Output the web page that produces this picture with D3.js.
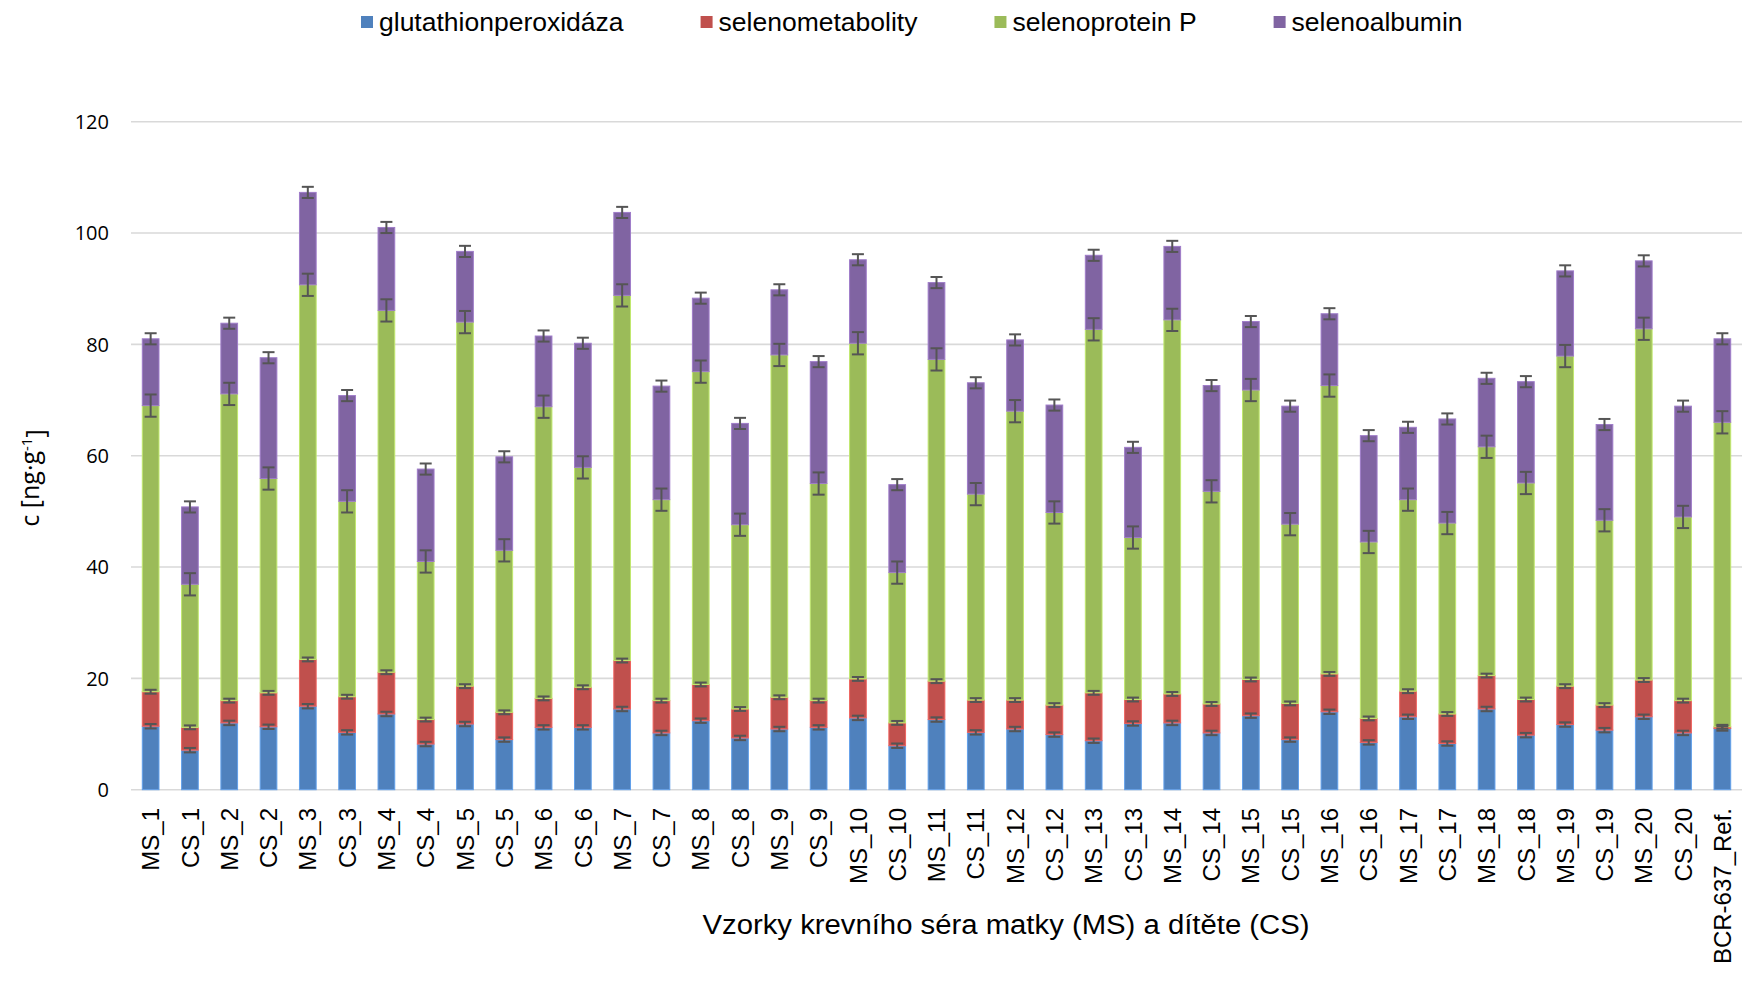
<!DOCTYPE html>
<html><head><meta charset="utf-8">
<script src="https://cdn.jsdelivr.net/npm/d3@7"></script>
<style>body{margin:0;background:#fff}svg{display:block}</style>
</head><body>
<script>
const categories = ["MS_1","CS_1","MS_2","CS_2","MS_3","CS_3","MS_4","CS_4","MS_5","CS_5","MS_6","CS_6","MS_7","CS_7","MS_8","CS_8","MS_9","CS_9","MS_10","CS_10","MS_11","CS_11","MS_12","CS_12","MS_13","CS_13","MS_14","CS_14","MS_15","CS_15","MS_16","CS_16","MS_17","CS_17","MS_18","CS_18","MS_19","CS_19","MS_20","CS_20","BCR-637_Ref."];
const seriesNames = ["glutathionperoxidáza","selenometabolity","selenoprotein P","selenoalbumin"];
const seriesColors = ["#4F81BD","#C0504D","#9BBB59","#8064A2"];
const glutathionperoxidaza = [11.4,7.1,12.0,11.3,15.0,10.3,13.6,8.2,11.8,9.0,11.2,11.2,14.5,10.2,12.4,9.3,10.9,11.2,12.9,7.9,12.6,10.3,10.9,9.9,8.8,11.9,12.0,10.2,13.3,9.0,14.0,8.5,13.1,8.3,14.5,9.8,11.7,10.7,13.1,10.2,11.0];
const selenometabolity = [6.2,4.1,4.0,6.1,8.4,6.4,7.5,4.4,6.8,4.9,5.2,7.2,8.7,5.8,6.5,5.2,5.7,4.8,7.0,4.1,6.9,5.8,5.2,5.3,8.6,4.3,5.2,5.2,6.5,6.5,6.8,4.3,4.6,5.3,6.0,6.4,6.9,4.5,6.6,5.8,0.3];
const selenoproteinP = [51.4,25.7,55.1,38.5,67.3,35.1,65.0,28.4,65.4,29.1,52.4,39.5,65.6,36.1,56.2,33.1,61.5,39.0,60.3,27.0,57.8,37.0,51.9,34.6,65.3,29.1,67.2,38.2,52.0,32.2,51.8,31.7,34.4,34.3,41.1,38.9,59.3,33.2,63.1,33.0,54.7];
const selenoalbumin = [12.0,13.9,12.7,21.7,16.6,19.0,14.9,16.6,12.7,16.8,12.7,22.3,14.9,20.4,13.2,18.2,11.7,21.9,15.0,15.8,13.8,20.0,12.8,19.3,13.3,16.2,13.2,19.0,12.3,21.2,12.9,19.1,13.0,18.7,12.3,18.2,15.3,17.2,12.2,19.9,15.0];
const errGlutathionperoxidaza = [0.4,0.4,0.4,0.4,0.4,0.4,0.4,0.4,0.4,0.4,0.4,0.4,0.4,0.4,0.4,0.4,0.4,0.4,0.4,0.4,0.4,0.4,0.4,0.4,0.4,0.4,0.4,0.4,0.4,0.4,0.4,0.4,0.4,0.4,0.4,0.4,0.4,0.4,0.4,0.4,0.4];
const errSelenometabolity = [0.35,0.35,0.35,0.35,0.35,0.35,0.35,0.35,0.35,0.35,0.35,0.35,0.35,0.35,0.35,0.35,0.35,0.35,0.35,0.35,0.35,0.35,0.35,0.35,0.35,0.35,0.35,0.35,0.35,0.35,0.35,0.35,0.35,0.35,0.35,0.35,0.35,0.35,0.35,0.35,0.35];
const errSelenoproteinP = [2.0,2.0,2.0,2.0,2.0,2.0,2.0,2.0,2.0,2.0,2.0,2.0,2.0,2.0,2.0,2.0,2.0,2.0,2.0,2.0,2.0,2.0,2.0,2.0,2.0,2.0,2.0,2.0,2.0,2.0,2.0,2.0,2.0,2.0,2.0,2.0,2.0,2.0,2.0,2.0,2.0];
const errSelenoalbumin = [1.0,1.0,1.0,1.0,1.0,1.0,1.0,1.0,1.0,1.0,1.0,1.0,1.0,1.0,1.0,1.0,1.0,1.0,1.0,1.0,1.0,1.0,1.0,1.0,1.0,1.0,1.0,1.0,1.0,1.0,1.0,1.0,1.0,1.0,1.0,1.0,1.0,1.0,1.0,1.0,1.0];
const yTicks = [0,20,40,60,80,100,120];
const yLabel = "c [ng·g";
const yLabelSup = "-1";
const xTitle = "Vzorky krevního séra matky (MS) a dítěte (CS)";

const W = 1742, H = 981;
const plot = {left: 131, right: 1742, top: 121.7, bottom: 789.7};
const svg = d3.select("body").append("svg").attr("width", W).attr("height", H)
  .style("font-family", "'Liberation Sans', Arial, sans-serif");
svg.append("rect").attr("width", W).attr("height", H).attr("fill", "#fff");

const x = d3.scaleBand().domain(categories).range([plot.left, plot.right]).paddingInner(0.575).paddingOuter(0.2875);
const y = d3.scaleLinear().domain([0, 120]).range([plot.bottom, plot.top]);

// gridlines
svg.append("g").selectAll("line").data(yTicks).join("line")
  .attr("x1", plot.left).attr("x2", plot.right)
  .attr("y1", d => y(d)).attr("y2", d => y(d))
  .attr("stroke", "#d9d9d9").attr("stroke-width", 1.6);

// y tick labels
svg.append("g").selectAll("text").data(yTicks).join("text")
  .attr("x", 109).attr("y", d => y(d)).attr("dy", "0.36em")
  .attr("text-anchor", "end").attr("font-family", "'Open Sans', sans-serif")
  .attr("font-size", 20).attr("fill", "#000").text(d => d);

// data table
const seriesArrays = [glutathionperoxidaza, selenometabolity, selenoproteinP, selenoalbumin];
const errArrays = [errGlutathionperoxidaza, errSelenometabolity, errSelenoproteinP, errSelenoalbumin];
const table = categories.map((c, i) => {
  const o = {cat: c, i};
  seriesNames.forEach((s, k) => o[s] = seriesArrays[k][i]);
  return o;
});
const stacked = d3.stack().keys(seriesNames)(table);

const bars = svg.append("g");
stacked.forEach((layer, k) => {
  bars.append("g").selectAll("rect").data(layer).join("rect")
    .attr("x", d => x(d.data.cat))
    .attr("width", x.bandwidth())
    .attr("y", d => y(d[1]))
    .attr("height", d => Math.max(0, y(d[0]) - y(d[1])))
    .attr("fill", seriesColors[k])
    .attr("stroke", d3.color(seriesColors[k]).brighter(0.6))
    .attr("stroke-width", 1);
});

// error bars
const eb = svg.append("g").attr("stroke", "#555").attr("stroke-width", 2);
const cap = 12;
stacked.forEach((layer, k) => {
  layer.forEach((d, i) => {
    const e = errArrays[k][i];
    const cx = x(d.data.cat) + x.bandwidth() / 2;
    const y1 = y(d[1] + e), y2 = y(d[1] - e);
    eb.append("line").attr("x1", cx).attr("x2", cx).attr("y1", y1).attr("y2", y2);
    eb.append("line").attr("x1", cx - cap/2).attr("x2", cx + cap/2).attr("y1", y1).attr("y2", y1);
    eb.append("line").attr("x1", cx - cap/2).attr("x2", cx + cap/2).attr("y1", y2).attr("y2", y2);
  });
});

// x tick labels
svg.append("g").selectAll("text").data(categories).join("text")
  .attr("transform", d => `translate(${x(d) + x.bandwidth()/2},808) rotate(-90)`)
  .attr("dy", "0.36em").attr("text-anchor", "end")
  .attr("font-size", 24).attr("fill", "#000").text(d => d);

// x title
svg.append("text").attr("x", 1006).attr("y", 934).attr("text-anchor", "middle")
  .attr("font-size", 27).attr("fill", "#000")
  .attr("textLength", 607).attr("lengthAdjust", "spacingAndGlyphs").text(xTitle);

// y label
const yl = svg.append("text").attr("transform", "translate(39,478) rotate(-90)")
  .attr("text-anchor", "middle").attr("font-family", "'Open Sans', sans-serif")
  .attr("font-size", 25).attr("fill", "#000");
yl.append("tspan").text(yLabel);
yl.append("tspan").attr("dy", "-0.45em").attr("font-size", 15).text(yLabelSup);
yl.append("tspan").attr("dy", "0.45em").text("]");

// legend
const lg = svg.append("g").attr("font-size", 26.5);
let lx = 361;
seriesNames.forEach((s, k) => {
  lg.append("rect").attr("x", lx).attr("y", 16).attr("width", 12).attr("height", 12).attr("fill", seriesColors[k]);
  const t = lg.append("text").attr("x", lx + 18).attr("y", 31).attr("fill", "#000").text(s);
  lx = lx + 18 + t.node().getComputedTextLength() + 77;
});
</script>
</body></html>
